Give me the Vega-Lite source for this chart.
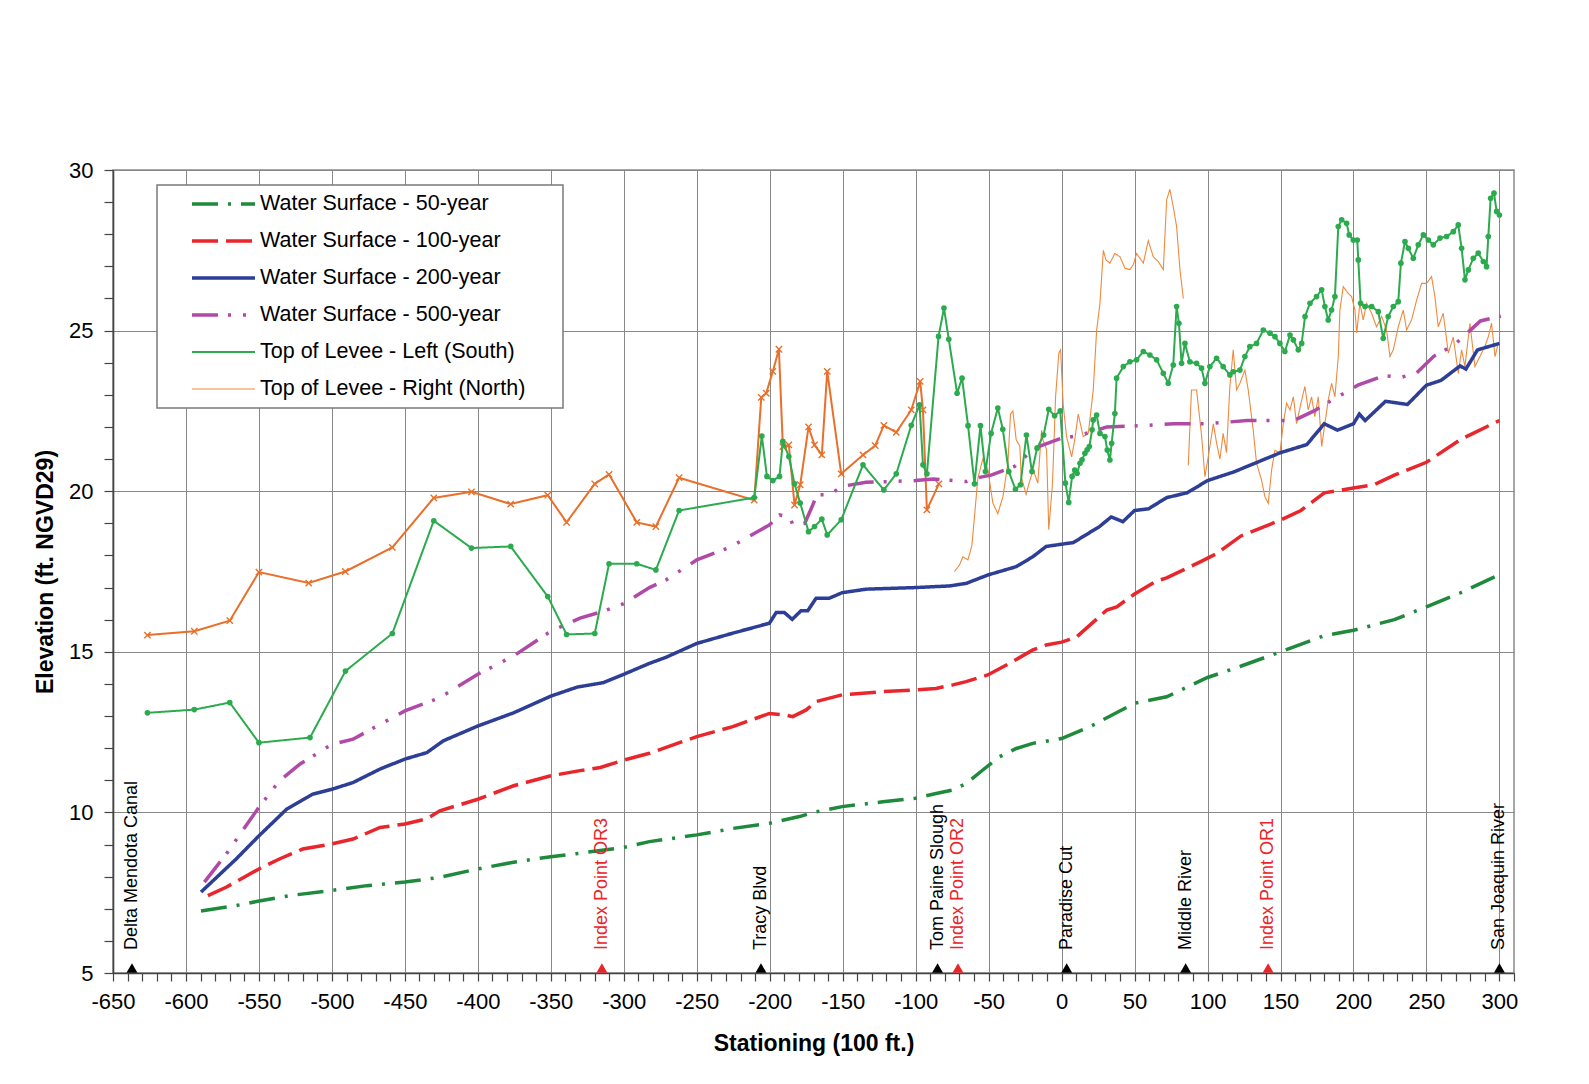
{
  "$schema": "https://vega.github.io/schema/vega-lite/v6.json",
  "width": 1401,
  "height": 803,
  "autosize": {"type": "none"},
  "padding": {"left": 113, "top": 170, "right": 75, "bottom": 111},
  "background": "white",
  "config": {
    "font": "Liberation Sans",
    "view": {"stroke": "#8a8a8a", "strokeWidth": 1.5}
  },
  "datasets": {
    "lines": [
      {"series":"Water Surface - 50-year","station":-589.7,"elev":6.93},
      {"series":"Water Surface - 50-year","station":-565.6,"elev":7.1},
      {"series":"Water Surface - 50-year","station":-550,"elev":7.24},
      {"series":"Water Surface - 50-year","station":-529,"elev":7.41},
      {"series":"Water Surface - 50-year","station":-500,"elev":7.57},
      {"series":"Water Surface - 50-year","station":-476,"elev":7.72},
      {"series":"Water Surface - 50-year","station":-450,"elev":7.83},
      {"series":"Water Surface - 50-year","station":-426,"elev":7.98},
      {"series":"Water Surface - 50-year","station":-400,"elev":8.24},
      {"series":"Water Surface - 50-year","station":-375.5,"elev":8.45},
      {"series":"Water Surface - 50-year","station":-350,"elev":8.62},
      {"series":"Water Surface - 50-year","station":-330,"elev":8.73},
      {"series":"Water Surface - 50-year","station":-300,"elev":8.91},
      {"series":"Water Surface - 50-year","station":-282.4,"elev":9.09},
      {"series":"Water Surface - 50-year","station":-250,"elev":9.3},
      {"series":"Water Surface - 50-year","station":-225.3,"elev":9.5},
      {"series":"Water Surface - 50-year","station":-200.2,"elev":9.66},
      {"series":"Water Surface - 50-year","station":-179.6,"elev":9.87},
      {"series":"Water Surface - 50-year","station":-168.2,"elev":10.02},
      {"series":"Water Surface - 50-year","station":-150.4,"elev":10.18},
      {"series":"Water Surface - 50-year","station":-122.5,"elev":10.33},
      {"series":"Water Surface - 50-year","station":-100.1,"elev":10.44},
      {"series":"Water Surface - 50-year","station":-86,"elev":10.59},
      {"series":"Water Surface - 50-year","station":-74.5,"elev":10.7},
      {"series":"Water Surface - 50-year","station":-65.4,"elev":10.9},
      {"series":"Water Surface - 50-year","station":-54,"elev":11.32},
      {"series":"Water Surface - 50-year","station":-42.6,"elev":11.73},
      {"series":"Water Surface - 50-year","station":-31.1,"elev":11.99},
      {"series":"Water Surface - 50-year","station":-19.7,"elev":12.15},
      {"series":"Water Surface - 50-year","station":0,"elev":12.3},
      {"series":"Water Surface - 50-year","station":19.5,"elev":12.67},
      {"series":"Water Surface - 50-year","station":50,"elev":13.4},
      {"series":"Water Surface - 50-year","station":72,"elev":13.6},
      {"series":"Water Surface - 50-year","station":100,"elev":14.2},
      {"series":"Water Surface - 50-year","station":122.7,"elev":14.55},
      {"series":"Water Surface - 50-year","station":150,"elev":15.0},
      {"series":"Water Surface - 50-year","station":180,"elev":15.5},
      {"series":"Water Surface - 50-year","station":200,"elev":15.67},
      {"series":"Water Surface - 50-year","station":228,"elev":16.0},
      {"series":"Water Surface - 50-year","station":250,"elev":16.4},
      {"series":"Water Surface - 50-year","station":273,"elev":16.83},
      {"series":"Water Surface - 50-year","station":300,"elev":17.4},

      {"series":"Water Surface - 100-year","station":-585,"elev":7.41},
      {"series":"Water Surface - 100-year","station":-572.5,"elev":7.67},
      {"series":"Water Surface - 100-year","station":-550,"elev":8.24},
      {"series":"Water Surface - 100-year","station":-536,"elev":8.55},
      {"series":"Water Surface - 100-year","station":-520,"elev":8.86},
      {"series":"Water Surface - 100-year","station":-500,"elev":9.02},
      {"series":"Water Surface - 100-year","station":-485.5,"elev":9.17},
      {"series":"Water Surface - 100-year","station":-467,"elev":9.53},
      {"series":"Water Surface - 100-year","station":-450,"elev":9.64},
      {"series":"Water Surface - 100-year","station":-435,"elev":9.8},
      {"series":"Water Surface - 100-year","station":-426,"elev":10.05},
      {"series":"Water Surface - 100-year","station":-400,"elev":10.41},
      {"series":"Water Surface - 100-year","station":-375.5,"elev":10.83},
      {"series":"Water Surface - 100-year","station":-350,"elev":11.14},
      {"series":"Water Surface - 100-year","station":-330,"elev":11.3},
      {"series":"Water Surface - 100-year","station":-316,"elev":11.4},
      {"series":"Water Surface - 100-year","station":-300,"elev":11.63},
      {"series":"Water Surface - 100-year","station":-282.4,"elev":11.84},
      {"series":"Water Surface - 100-year","station":-250,"elev":12.36},
      {"series":"Water Surface - 100-year","station":-225.3,"elev":12.67},
      {"series":"Water Surface - 100-year","station":-200.2,"elev":13.08},
      {"series":"Water Surface - 100-year","station":-188.8,"elev":13.03},
      {"series":"Water Surface - 100-year","station":-184.2,"elev":12.98},
      {"series":"Water Surface - 100-year","station":-175,"elev":13.19},
      {"series":"Water Surface - 100-year","station":-168.2,"elev":13.45},
      {"series":"Water Surface - 100-year","station":-150.4,"elev":13.66},
      {"series":"Water Surface - 100-year","station":-122.5,"elev":13.76},
      {"series":"Water Surface - 100-year","station":-100.1,"elev":13.81},
      {"series":"Water Surface - 100-year","station":-86,"elev":13.86},
      {"series":"Water Surface - 100-year","station":-74.5,"elev":13.97},
      {"series":"Water Surface - 100-year","station":-65.4,"elev":14.07},
      {"series":"Water Surface - 100-year","station":-50.6,"elev":14.28},
      {"series":"Water Surface - 100-year","station":-35.7,"elev":14.64},
      {"series":"Water Surface - 100-year","station":-19.7,"elev":15.06},
      {"series":"Water Surface - 100-year","station":-10.6,"elev":15.21},
      {"series":"Water Surface - 100-year","station":0,"elev":15.3},
      {"series":"Water Surface - 100-year","station":10,"elev":15.45},
      {"series":"Water Surface - 100-year","station":31,"elev":16.3},
      {"series":"Water Surface - 100-year","station":37.8,"elev":16.4},
      {"series":"Water Surface - 100-year","station":50,"elev":16.8},
      {"series":"Water Surface - 100-year","station":65,"elev":17.2},
      {"series":"Water Surface - 100-year","station":72,"elev":17.3},
      {"series":"Water Surface - 100-year","station":83.5,"elev":17.55},
      {"series":"Water Surface - 100-year","station":95,"elev":17.8},
      {"series":"Water Surface - 100-year","station":106,"elev":18.05},
      {"series":"Water Surface - 100-year","station":122.7,"elev":18.6},
      {"series":"Water Surface - 100-year","station":150,"elev":19.1},
      {"series":"Water Surface - 100-year","station":164,"elev":19.4},
      {"series":"Water Surface - 100-year","station":180,"elev":19.95},
      {"series":"Water Surface - 100-year","station":200,"elev":20.1},
      {"series":"Water Surface - 100-year","station":214,"elev":20.2},
      {"series":"Water Surface - 100-year","station":228,"elev":20.5},
      {"series":"Water Surface - 100-year","station":250,"elev":20.9},
      {"series":"Water Surface - 100-year","station":273,"elev":21.6},
      {"series":"Water Surface - 100-year","station":282,"elev":21.8},
      {"series":"Water Surface - 100-year","station":300,"elev":22.2},

      {"series":"Water Surface - 200-year","station":-589.7,"elev":7.52},
      {"series":"Water Surface - 200-year","station":-565.6,"elev":8.55},
      {"series":"Water Surface - 200-year","station":-550,"elev":9.27},
      {"series":"Water Surface - 200-year","station":-531,"elev":10.1},
      {"series":"Water Surface - 200-year","station":-513,"elev":10.57},
      {"series":"Water Surface - 200-year","station":-500,"elev":10.72},
      {"series":"Water Surface - 200-year","station":-485.5,"elev":10.93},
      {"series":"Water Surface - 200-year","station":-467,"elev":11.35},
      {"series":"Water Surface - 200-year","station":-450,"elev":11.66},
      {"series":"Water Surface - 200-year","station":-435,"elev":11.86},
      {"series":"Water Surface - 200-year","station":-423.6,"elev":12.23},
      {"series":"Water Surface - 200-year","station":-400,"elev":12.69},
      {"series":"Water Surface - 200-year","station":-375.5,"elev":13.1},
      {"series":"Water Surface - 200-year","station":-350,"elev":13.62},
      {"series":"Water Surface - 200-year","station":-332,"elev":13.9},
      {"series":"Water Surface - 200-year","station":-314,"elev":14.04},
      {"series":"Water Surface - 200-year","station":-300,"elev":14.3},
      {"series":"Water Surface - 200-year","station":-282.4,"elev":14.64},
      {"series":"Water Surface - 200-year","station":-271,"elev":14.83},
      {"series":"Water Surface - 200-year","station":-250,"elev":15.26},
      {"series":"Water Surface - 200-year","station":-225.3,"elev":15.58},
      {"series":"Water Surface - 200-year","station":-200.2,"elev":15.89},
      {"series":"Water Surface - 200-year","station":-195.6,"elev":16.22},
      {"series":"Water Surface - 200-year","station":-189.9,"elev":16.22},
      {"series":"Water Surface - 200-year","station":-184.6,"elev":16.01},
      {"series":"Water Surface - 200-year","station":-178.5,"elev":16.28},
      {"series":"Water Surface - 200-year","station":-173.9,"elev":16.28},
      {"series":"Water Surface - 200-year","station":-168.2,"elev":16.67},
      {"series":"Water Surface - 200-year","station":-159.1,"elev":16.67},
      {"series":"Water Surface - 200-year","station":-150.4,"elev":16.84},
      {"series":"Water Surface - 200-year","station":-133.9,"elev":16.95},
      {"series":"Water Surface - 200-year","station":-100.1,"elev":17.0},
      {"series":"Water Surface - 200-year","station":-76.8,"elev":17.05},
      {"series":"Water Surface - 200-year","station":-65.4,"elev":17.13},
      {"series":"Water Surface - 200-year","station":-50.6,"elev":17.39},
      {"series":"Water Surface - 200-year","station":-31.1,"elev":17.65},
      {"series":"Water Surface - 200-year","station":-19.7,"elev":17.96},
      {"series":"Water Surface - 200-year","station":-10.6,"elev":18.28},
      {"series":"Water Surface - 200-year","station":0,"elev":18.35},
      {"series":"Water Surface - 200-year","station":8,"elev":18.4},
      {"series":"Water Surface - 200-year","station":26,"elev":18.9},
      {"series":"Water Surface - 200-year","station":34,"elev":19.2},
      {"series":"Water Surface - 200-year","station":42,"elev":19.05},
      {"series":"Water Surface - 200-year","station":50,"elev":19.4},
      {"series":"Water Surface - 200-year","station":59.5,"elev":19.45},
      {"series":"Water Surface - 200-year","station":72,"elev":19.8},
      {"series":"Water Surface - 200-year","station":86,"elev":19.95},
      {"series":"Water Surface - 200-year","station":100,"elev":20.33},
      {"series":"Water Surface - 200-year","station":118,"elev":20.6},
      {"series":"Water Surface - 200-year","station":134,"elev":20.9},
      {"series":"Water Surface - 200-year","station":150,"elev":21.2},
      {"series":"Water Surface - 200-year","station":168,"elev":21.45},
      {"series":"Water Surface - 200-year","station":180,"elev":22.1},
      {"series":"Water Surface - 200-year","station":189,"elev":21.9},
      {"series":"Water Surface - 200-year","station":200,"elev":22.1},
      {"series":"Water Surface - 200-year","station":204,"elev":22.4},
      {"series":"Water Surface - 200-year","station":208,"elev":22.2},
      {"series":"Water Surface - 200-year","station":222,"elev":22.8},
      {"series":"Water Surface - 200-year","station":237,"elev":22.7},
      {"series":"Water Surface - 200-year","station":250,"elev":23.3},
      {"series":"Water Surface - 200-year","station":260,"elev":23.45},
      {"series":"Water Surface - 200-year","station":273,"elev":23.9},
      {"series":"Water Surface - 200-year","station":277,"elev":23.8},
      {"series":"Water Surface - 200-year","station":285,"elev":24.4},
      {"series":"Water Surface - 200-year","station":300,"elev":24.6},

      {"series":"Water Surface - 500-year","station":-587.4,"elev":7.83},
      {"series":"Water Surface - 500-year","station":-572.5,"elev":8.7},
      {"series":"Water Surface - 500-year","station":-550,"elev":10.16},
      {"series":"Water Surface - 500-year","station":-536,"elev":10.98},
      {"series":"Water Surface - 500-year","station":-522,"elev":11.5},
      {"series":"Water Surface - 500-year","station":-500,"elev":12.12},
      {"series":"Water Surface - 500-year","station":-485.5,"elev":12.28},
      {"series":"Water Surface - 500-year","station":-467,"elev":12.74},
      {"series":"Water Surface - 500-year","station":-450,"elev":13.16},
      {"series":"Water Surface - 500-year","station":-426,"elev":13.57},
      {"series":"Water Surface - 500-year","station":-417,"elev":13.83},
      {"series":"Water Surface - 500-year","station":-400,"elev":14.3},
      {"series":"Water Surface - 500-year","station":-375.5,"elev":14.87},
      {"series":"Water Surface - 500-year","station":-350,"elev":15.64},
      {"series":"Water Surface - 500-year","station":-330,"elev":16.05},
      {"series":"Water Surface - 500-year","station":-314,"elev":16.26},
      {"series":"Water Surface - 500-year","station":-300,"elev":16.5},
      {"series":"Water Surface - 500-year","station":-282.4,"elev":17.0},
      {"series":"Water Surface - 500-year","station":-271,"elev":17.24},
      {"series":"Water Surface - 500-year","station":-250,"elev":17.86},
      {"series":"Water Surface - 500-year","station":-227.5,"elev":18.25},
      {"series":"Water Surface - 500-year","station":-200.2,"elev":18.95},
      {"series":"Water Surface - 500-year","station":-193.3,"elev":19.26},
      {"series":"Water Surface - 500-year","station":-186.5,"elev":19.21},
      {"series":"Water Surface - 500-year","station":-184.1,"elev":18.95},
      {"series":"Water Surface - 500-year","station":-176,"elev":19.0},
      {"series":"Water Surface - 500-year","station":-170.4,"elev":19.58},
      {"series":"Water Surface - 500-year","station":-167.7,"elev":19.89},
      {"series":"Water Surface - 500-year","station":-159,"elev":19.89},
      {"series":"Water Surface - 500-year","station":-150.4,"elev":20.15},
      {"series":"Water Surface - 500-year","station":-134,"elev":20.28},
      {"series":"Water Surface - 500-year","station":-118,"elev":20.3},
      {"series":"Water Surface - 500-year","station":-100,"elev":20.33},
      {"series":"Water Surface - 500-year","station":-88,"elev":20.38},
      {"series":"Water Surface - 500-year","station":-74.6,"elev":20.33},
      {"series":"Water Surface - 500-year","station":-65,"elev":20.3},
      {"series":"Water Surface - 500-year","station":-56.2,"elev":20.43},
      {"series":"Water Surface - 500-year","station":-48.3,"elev":20.5},
      {"series":"Water Surface - 500-year","station":-32.3,"elev":20.77},
      {"series":"Water Surface - 500-year","station":-18.5,"elev":21.34},
      {"series":"Water Surface - 500-year","station":0,"elev":21.65},
      {"series":"Water Surface - 500-year","station":10,"elev":21.72},
      {"series":"Water Surface - 500-year","station":19.5,"elev":21.83},
      {"series":"Water Surface - 500-year","station":31,"elev":22.0},
      {"series":"Water Surface - 500-year","station":50,"elev":22.03},
      {"series":"Water Surface - 500-year","station":77,"elev":22.1},
      {"series":"Water Surface - 500-year","station":100,"elev":22.1},
      {"series":"Water Surface - 500-year","station":127,"elev":22.2},
      {"series":"Water Surface - 500-year","station":143,"elev":22.2},
      {"series":"Water Surface - 500-year","station":159,"elev":22.2},
      {"series":"Water Surface - 500-year","station":173,"elev":22.5},
      {"series":"Water Surface - 500-year","station":184,"elev":22.8},
      {"series":"Water Surface - 500-year","station":203,"elev":23.3},
      {"series":"Water Surface - 500-year","station":221,"elev":23.6},
      {"series":"Water Surface - 500-year","station":233,"elev":23.55},
      {"series":"Water Surface - 500-year","station":243,"elev":23.67},
      {"series":"Water Surface - 500-year","station":255,"elev":24.2},
      {"series":"Water Surface - 500-year","station":269,"elev":24.55},
      {"series":"Water Surface - 500-year","station":287,"elev":25.3},
      {"series":"Water Surface - 500-year","station":301,"elev":25.45},

      {"series":"Top of Levee - Right (North)","seg":1,"station":-73.4,"elev":17.5},
      {"series":"Top of Levee - Right (North)","seg":1,"station":-70,"elev":17.7},
      {"series":"Top of Levee - Right (North)","seg":1,"station":-67.6,"elev":17.96},
      {"series":"Top of Levee - Right (North)","seg":1,"station":-64.2,"elev":17.86},
      {"series":"Top of Levee - Right (North)","seg":1,"station":-61.5,"elev":18.3},
      {"series":"Top of Levee - Right (North)","seg":1,"station":-59.7,"elev":19.2},
      {"series":"Top of Levee - Right (North)","seg":1,"station":-57.4,"elev":20.4},
      {"series":"Top of Levee - Right (North)","seg":1,"station":-54,"elev":21.0},
      {"series":"Top of Levee - Right (North)","seg":1,"station":-50.6,"elev":20.7},
      {"series":"Top of Levee - Right (North)","seg":1,"station":-47.1,"elev":19.63},
      {"series":"Top of Levee - Right (North)","seg":1,"station":-43.7,"elev":19.3},
      {"series":"Top of Levee - Right (North)","seg":1,"station":-40.2,"elev":19.83},
      {"series":"Top of Levee - Right (North)","seg":1,"station":-36.8,"elev":20.87},
      {"series":"Top of Levee - Right (North)","seg":1,"station":-35,"elev":22.4},
      {"series":"Top of Levee - Right (North)","seg":1,"station":-33.4,"elev":22.5},
      {"series":"Top of Levee - Right (North)","seg":1,"station":-31.1,"elev":21.6},
      {"series":"Top of Levee - Right (North)","seg":1,"station":-28.6,"elev":21.4},
      {"series":"Top of Levee - Right (North)","seg":1,"station":-27.7,"elev":20.46},
      {"series":"Top of Levee - Right (North)","seg":1,"station":-24.3,"elev":19.9},
      {"series":"Top of Levee - Right (North)","seg":1,"station":-22,"elev":20.3},
      {"series":"Top of Levee - Right (North)","seg":1,"station":-19.4,"elev":20.66},
      {"series":"Top of Levee - Right (North)","seg":1,"station":-16.3,"elev":20.25},
      {"series":"Top of Levee - Right (North)","seg":1,"station":-13.7,"elev":21.9},
      {"series":"Top of Levee - Right (North)","seg":1,"station":-12.8,"elev":21.6},
      {"series":"Top of Levee - Right (North)","seg":1,"station":-10.3,"elev":21.3},
      {"series":"Top of Levee - Right (North)","seg":1,"station":-8.8,"elev":18.8},
      {"series":"Top of Levee - Right (North)","seg":1,"station":-6.4,"elev":20.15},
      {"series":"Top of Levee - Right (North)","seg":1,"station":-5.7,"elev":20.9},
      {"series":"Top of Levee - Right (North)","seg":1,"station":-4.1,"elev":22.95},
      {"series":"Top of Levee - Right (North)","seg":1,"station":-1.9,"elev":24.3},
      {"series":"Top of Levee - Right (North)","seg":1,"station":-0.7,"elev":24.4},
      {"series":"Top of Levee - Right (North)","seg":1,"station":1.1,"elev":22.7},
      {"series":"Top of Levee - Right (North)","seg":1,"station":3.4,"elev":21.7},
      {"series":"Top of Levee - Right (North)","seg":1,"station":6.9,"elev":21.07},
      {"series":"Top of Levee - Right (North)","seg":1,"station":9,"elev":21.6},
      {"series":"Top of Levee - Right (North)","seg":1,"station":11.4,"elev":22.4},
      {"series":"Top of Levee - Right (North)","seg":1,"station":14.8,"elev":21.7},
      {"series":"Top of Levee - Right (North)","seg":1,"station":18.3,"elev":21.8},
      {"series":"Top of Levee - Right (North)","seg":1,"station":21.7,"elev":23.15},
      {"series":"Top of Levee - Right (North)","seg":1,"station":24,"elev":25.0},
      {"series":"Top of Levee - Right (North)","seg":1,"station":26.3,"elev":25.85},
      {"series":"Top of Levee - Right (North)","seg":1,"station":28.6,"elev":27.5},
      {"series":"Top of Levee - Right (North)","seg":1,"station":30.4,"elev":27.2},
      {"series":"Top of Levee - Right (North)","seg":1,"station":33.1,"elev":27.1},
      {"series":"Top of Levee - Right (North)","seg":1,"station":36.5,"elev":27.4},
      {"series":"Top of Levee - Right (North)","seg":1,"station":40,"elev":27.3},
      {"series":"Top of Levee - Right (North)","seg":1,"station":43.4,"elev":26.94},
      {"series":"Top of Levee - Right (North)","seg":1,"station":46.8,"elev":26.9},
      {"series":"Top of Levee - Right (North)","seg":1,"station":49.1,"elev":27.05},
      {"series":"Top of Levee - Right (North)","seg":1,"station":51.4,"elev":27.4},
      {"series":"Top of Levee - Right (North)","seg":1,"station":56,"elev":27.1},
      {"series":"Top of Levee - Right (North)","seg":1,"station":59.4,"elev":27.8},
      {"series":"Top of Levee - Right (North)","seg":1,"station":62.8,"elev":27.3},
      {"series":"Top of Levee - Right (North)","seg":1,"station":66.2,"elev":27.15},
      {"series":"Top of Levee - Right (North)","seg":1,"station":69.7,"elev":26.9},
      {"series":"Top of Levee - Right (North)","seg":1,"station":72,"elev":29.07},
      {"series":"Top of Levee - Right (North)","seg":1,"station":74.2,"elev":29.4},
      {"series":"Top of Levee - Right (North)","seg":1,"station":76.5,"elev":28.86},
      {"series":"Top of Levee - Right (North)","seg":1,"station":78.8,"elev":28.24},
      {"series":"Top of Levee - Right (North)","seg":1,"station":81.1,"elev":26.9},
      {"series":"Top of Levee - Right (North)","seg":1,"station":83.4,"elev":26.0},
      {"series":"Top of Levee - Right (North)","seg":2,"station":86.8,"elev":20.8},
      {"series":"Top of Levee - Right (North)","seg":2,"station":89,"elev":23.15},
      {"series":"Top of Levee - Right (North)","seg":2,"station":92.5,"elev":23.15},
      {"series":"Top of Levee - Right (North)","seg":2,"station":96,"elev":21.7},
      {"series":"Top of Levee - Right (North)","seg":2,"station":98.2,"elev":20.45},
      {"series":"Top of Levee - Right (North)","seg":2,"station":100.5,"elev":21.07},
      {"series":"Top of Levee - Right (North)","seg":2,"station":104,"elev":22.1},
      {"series":"Top of Levee - Right (North)","seg":2,"station":106.2,"elev":21.5},
      {"series":"Top of Levee - Right (North)","seg":2,"station":108.5,"elev":21.0},
      {"series":"Top of Levee - Right (North)","seg":2,"station":110.7,"elev":21.8},
      {"series":"Top of Levee - Right (North)","seg":2,"station":113,"elev":21.2},
      {"series":"Top of Levee - Right (North)","seg":2,"station":115.3,"elev":23.26},
      {"series":"Top of Levee - Right (North)","seg":2,"station":117.6,"elev":24.4},
      {"series":"Top of Levee - Right (North)","seg":2,"station":119.9,"elev":23.15},
      {"series":"Top of Levee - Right (North)","seg":2,"station":122.2,"elev":23.36},
      {"series":"Top of Levee - Right (North)","seg":2,"station":125.6,"elev":23.77},
      {"series":"Top of Levee - Right (North)","seg":2,"station":127.9,"elev":23.15},
      {"series":"Top of Levee - Right (North)","seg":2,"station":131.3,"elev":21.9},
      {"series":"Top of Levee - Right (North)","seg":2,"station":133.6,"elev":20.87},
      {"series":"Top of Levee - Right (North)","seg":2,"station":137,"elev":20.35},
      {"series":"Top of Levee - Right (North)","seg":2,"station":139.3,"elev":19.83},
      {"series":"Top of Levee - Right (North)","seg":2,"station":141.6,"elev":19.62},
      {"series":"Top of Levee - Right (North)","seg":2,"station":143.9,"elev":20.66},
      {"series":"Top of Levee - Right (North)","seg":2,"station":146.2,"elev":21.28},
      {"series":"Top of Levee - Right (North)","seg":2,"station":149.6,"elev":21.18},
      {"series":"Top of Levee - Right (North)","seg":2,"station":151.9,"elev":22.1},
      {"series":"Top of Levee - Right (North)","seg":2,"station":154.2,"elev":22.74},
      {"series":"Top of Levee - Right (North)","seg":2,"station":156.5,"elev":22.53},
      {"series":"Top of Levee - Right (North)","seg":2,"station":158.8,"elev":22.94},
      {"series":"Top of Levee - Right (North)","seg":2,"station":161,"elev":22.1},
      {"series":"Top of Levee - Right (North)","seg":2,"station":164.5,"elev":22.84},
      {"series":"Top of Levee - Right (North)","seg":2,"station":166.7,"elev":23.26},
      {"series":"Top of Levee - Right (North)","seg":2,"station":169,"elev":22.53},
      {"series":"Top of Levee - Right (North)","seg":2,"station":171.3,"elev":22.94},
      {"series":"Top of Levee - Right (North)","seg":2,"station":173.5,"elev":22.32},
      {"series":"Top of Levee - Right (North)","seg":2,"station":175.9,"elev":22.94},
      {"series":"Top of Levee - Right (North)","seg":2,"station":178.2,"elev":21.39},
      {"series":"Top of Levee - Right (North)","seg":2,"station":180.4,"elev":22.1},
      {"series":"Top of Levee - Right (North)","seg":2,"station":182.7,"elev":22.84},
      {"series":"Top of Levee - Right (North)","seg":2,"station":185,"elev":23.36},
      {"series":"Top of Levee - Right (North)","seg":2,"station":187.3,"elev":22.94},
      {"series":"Top of Levee - Right (North)","seg":2,"station":189.6,"elev":24.19},
      {"series":"Top of Levee - Right (North)","seg":2,"station":190.7,"elev":25.64},
      {"series":"Top of Levee - Right (North)","seg":2,"station":193,"elev":26.37},
      {"series":"Top of Levee - Right (North)","seg":2,"station":196.4,"elev":26.16},
      {"series":"Top of Levee - Right (North)","seg":2,"station":198.7,"elev":26.06},
      {"series":"Top of Levee - Right (North)","seg":2,"station":201,"elev":25.64},
      {"series":"Top of Levee - Right (North)","seg":2,"station":202.2,"elev":24.92},
      {"series":"Top of Levee - Right (North)","seg":2,"station":204.4,"elev":25.85},
      {"series":"Top of Levee - Right (North)","seg":2,"station":206.7,"elev":25.33},
      {"series":"Top of Levee - Right (North)","seg":2,"station":209,"elev":25.85},
      {"series":"Top of Levee - Right (North)","seg":2,"station":212.4,"elev":25.54},
      {"series":"Top of Levee - Right (North)","seg":2,"station":215.8,"elev":25.12},
      {"series":"Top of Levee - Right (North)","seg":2,"station":219.3,"elev":25.44},
      {"series":"Top of Levee - Right (North)","seg":2,"station":222.7,"elev":25.02},
      {"series":"Top of Levee - Right (North)","seg":2,"station":225,"elev":24.19},
      {"series":"Top of Levee - Right (North)","seg":2,"station":227.3,"elev":24.4},
      {"series":"Top of Levee - Right (North)","seg":2,"station":230.7,"elev":25.12},
      {"series":"Top of Levee - Right (North)","seg":2,"station":234.1,"elev":25.64},
      {"series":"Top of Levee - Right (North)","seg":2,"station":236.4,"elev":25.02},
      {"series":"Top of Levee - Right (North)","seg":2,"station":239.8,"elev":25.33},
      {"series":"Top of Levee - Right (North)","seg":2,"station":243.3,"elev":25.95},
      {"series":"Top of Levee - Right (North)","seg":2,"station":246.7,"elev":26.47},
      {"series":"Top of Levee - Right (North)","seg":2,"station":250.1,"elev":26.47},
      {"series":"Top of Levee - Right (North)","seg":2,"station":253.5,"elev":26.68},
      {"series":"Top of Levee - Right (North)","seg":2,"station":255.8,"elev":26.06},
      {"series":"Top of Levee - Right (North)","seg":2,"station":258.1,"elev":25.12},
      {"series":"Top of Levee - Right (North)","seg":2,"station":261.5,"elev":25.54},
      {"series":"Top of Levee - Right (North)","seg":2,"station":265,"elev":24.3},
      {"series":"Top of Levee - Right (North)","seg":2,"station":268.4,"elev":24.8},
      {"series":"Top of Levee - Right (North)","seg":2,"station":271.8,"elev":23.67},
      {"series":"Top of Levee - Right (North)","seg":2,"station":274.1,"elev":24.4},
      {"series":"Top of Levee - Right (North)","seg":2,"station":276.4,"elev":23.88},
      {"series":"Top of Levee - Right (North)","seg":2,"station":279.8,"elev":25.23},
      {"series":"Top of Levee - Right (North)","seg":2,"station":283.2,"elev":23.88},
      {"series":"Top of Levee - Right (North)","seg":2,"station":286.6,"elev":24.19},
      {"series":"Top of Levee - Right (North)","seg":2,"station":290,"elev":24.5},
      {"series":"Top of Levee - Right (North)","seg":2,"station":292.4,"elev":24.81},
      {"series":"Top of Levee - Right (North)","seg":2,"station":294.6,"elev":25.23},
      {"series":"Top of Levee - Right (North)","seg":2,"station":297,"elev":24.19},
      {"series":"Top of Levee - Right (North)","seg":2,"station":299.2,"elev":24.6},

      {"series":"Top of Levee - Left (South)","station":-626.4,"elev":13.1},
      {"series":"Top of Levee - Left (South)","station":-594.3,"elev":13.2},
      {"series":"Top of Levee - Left (South)","station":-570,"elev":13.42},
      {"series":"Top of Levee - Left (South)","station":-550,"elev":12.17},
      {"series":"Top of Levee - Left (South)","station":-515,"elev":12.33},
      {"series":"Top of Levee - Left (South)","station":-490.7,"elev":14.4},
      {"series":"Top of Levee - Left (South)","station":-458.6,"elev":15.57},
      {"series":"Top of Levee - Left (South)","station":-430.2,"elev":19.08},
      {"series":"Top of Levee - Left (South)","station":-404.4,"elev":18.23},
      {"series":"Top of Levee - Left (South)","station":-377.5,"elev":18.28},
      {"series":"Top of Levee - Left (South)","station":-352.1,"elev":16.72},
      {"series":"Top of Levee - Left (South)","station":-339.2,"elev":15.54},
      {"series":"Top of Levee - Left (South)","station":-319.9,"elev":15.57},
      {"series":"Top of Levee - Left (South)","station":-310.1,"elev":17.74},
      {"series":"Top of Levee - Left (South)","station":-291.1,"elev":17.74},
      {"series":"Top of Levee - Left (South)","station":-278,"elev":17.55},
      {"series":"Top of Levee - Left (South)","station":-262.1,"elev":19.4},
      {"series":"Top of Levee - Left (South)","station":-210.6,"elev":19.8},
      {"series":"Top of Levee - Left (South)","station":-205.4,"elev":21.72},
      {"series":"Top of Levee - Left (South)","station":-201.9,"elev":20.46},
      {"series":"Top of Levee - Left (South)","station":-197.8,"elev":20.33},
      {"series":"Top of Levee - Left (South)","station":-193.3,"elev":20.46},
      {"series":"Top of Levee - Left (South)","station":-191,"elev":21.55},
      {"series":"Top of Levee - Left (South)","station":-186.9,"elev":21.08},
      {"series":"Top of Levee - Left (South)","station":-183,"elev":20.23},
      {"series":"Top of Levee - Left (South)","station":-179.1,"elev":19.63},
      {"series":"Top of Levee - Left (South)","station":-173.4,"elev":18.74},
      {"series":"Top of Levee - Left (South)","station":-169.3,"elev":18.9},
      {"series":"Top of Levee - Left (South)","station":-164.3,"elev":19.13},
      {"series":"Top of Levee - Left (South)","station":-160.6,"elev":18.64},
      {"series":"Top of Levee - Left (South)","station":-151,"elev":19.11},
      {"series":"Top of Levee - Left (South)","station":-136.1,"elev":20.82},
      {"series":"Top of Levee - Left (South)","station":-121.8,"elev":20.04},
      {"series":"Top of Levee - Left (South)","station":-113.3,"elev":20.54},
      {"series":"Top of Levee - Left (South)","station":-103,"elev":22.05},
      {"series":"Top of Levee - Left (South)","station":-97.3,"elev":22.69},
      {"series":"Top of Levee - Left (South)","station":-95,"elev":20.82},
      {"series":"Top of Levee - Left (South)","station":-92.3,"elev":20.54},
      {"series":"Top of Levee - Left (South)","station":-84.3,"elev":24.82},
      {"series":"Top of Levee - Left (South)","station":-80.6,"elev":25.7},
      {"series":"Top of Levee - Left (South)","station":-77.3,"elev":24.73},
      {"series":"Top of Levee - Left (South)","station":-71.6,"elev":23.05},
      {"series":"Top of Levee - Left (South)","station":-68.2,"elev":23.52},
      {"series":"Top of Levee - Left (South)","station":-64.1,"elev":22.04},
      {"series":"Top of Levee - Left (South)","station":-59.7,"elev":20.23},
      {"series":"Top of Levee - Left (South)","station":-55.6,"elev":22.04},
      {"series":"Top of Levee - Left (South)","station":-52.2,"elev":20.61},
      {"series":"Top of Levee - Left (South)","station":-48.3,"elev":21.8},
      {"series":"Top of Levee - Left (South)","station":-43.7,"elev":22.59},
      {"series":"Top of Levee - Left (South)","station":-40.3,"elev":21.93},
      {"series":"Top of Levee - Left (South)","station":-36.2,"elev":20.61},
      {"series":"Top of Levee - Left (South)","station":-31.6,"elev":20.06},
      {"series":"Top of Levee - Left (South)","station":-28.2,"elev":20.2},
      {"series":"Top of Levee - Left (South)","station":-24.1,"elev":21.75},
      {"series":"Top of Levee - Left (South)","station":-20.3,"elev":20.61},
      {"series":"Top of Levee - Left (South)","station":-16.8,"elev":21.34},
      {"series":"Top of Levee - Left (South)","station":-12.3,"elev":21.75},
      {"series":"Top of Levee - Left (South)","station":-8.8,"elev":22.55},
      {"series":"Top of Levee - Left (South)","station":-4.8,"elev":22.35},
      {"series":"Top of Levee - Left (South)","station":-0.9,"elev":22.5},
      {"series":"Top of Levee - Left (South)","station":2.6,"elev":20.25},
      {"series":"Top of Levee - Left (South)","station":4.9,"elev":19.65},
      {"series":"Top of Levee - Left (South)","station":7.2,"elev":20.46},
      {"series":"Top of Levee - Left (South)","station":9,"elev":20.66},
      {"series":"Top of Levee - Left (South)","station":10.6,"elev":20.56},
      {"series":"Top of Levee - Left (South)","station":12.6,"elev":20.87},
      {"series":"Top of Levee - Left (South)","station":14,"elev":20.98},
      {"series":"Top of Levee - Left (South)","station":16,"elev":21.18},
      {"series":"Top of Levee - Left (South)","station":17.5,"elev":21.29},
      {"series":"Top of Levee - Left (South)","station":19,"elev":21.39},
      {"series":"Top of Levee - Left (South)","station":20.9,"elev":21.91},
      {"series":"Top of Levee - Left (South)","station":21.7,"elev":22.22},
      {"series":"Top of Levee - Left (South)","station":24,"elev":22.37},
      {"series":"Top of Levee - Left (South)","station":26.3,"elev":21.8},
      {"series":"Top of Levee - Left (South)","station":29.7,"elev":21.7},
      {"series":"Top of Levee - Left (South)","station":31.3,"elev":21.28},
      {"series":"Top of Levee - Left (South)","station":33.1,"elev":20.97},
      {"series":"Top of Levee - Left (South)","station":34.3,"elev":21.49},
      {"series":"Top of Levee - Left (South)","station":36.5,"elev":22.42},
      {"series":"Top of Levee - Left (South)","station":37.7,"elev":23.52},
      {"series":"Top of Levee - Left (South)","station":42.3,"elev":23.88},
      {"series":"Top of Levee - Left (South)","station":46.8,"elev":24.03},
      {"series":"Top of Levee - Left (South)","station":51.4,"elev":24.09},
      {"series":"Top of Levee - Left (South)","station":56,"elev":24.35},
      {"series":"Top of Levee - Left (South)","station":60.5,"elev":24.24},
      {"series":"Top of Levee - Left (South)","station":65.1,"elev":24.09},
      {"series":"Top of Levee - Left (South)","station":69.7,"elev":23.67},
      {"series":"Top of Levee - Left (South)","station":73.1,"elev":23.36},
      {"series":"Top of Levee - Left (South)","station":76.5,"elev":23.93},
      {"series":"Top of Levee - Left (South)","station":78.8,"elev":25.75},
      {"series":"Top of Levee - Left (South)","station":80.4,"elev":25.23},
      {"series":"Top of Levee - Left (South)","station":82.2,"elev":23.98},
      {"series":"Top of Levee - Left (South)","station":84.5,"elev":24.6},
      {"series":"Top of Levee - Left (South)","station":87.9,"elev":24.03},
      {"series":"Top of Levee - Left (South)","station":92.5,"elev":23.98},
      {"series":"Top of Levee - Left (South)","station":95.9,"elev":23.83},
      {"series":"Top of Levee - Left (South)","station":98.2,"elev":23.36},
      {"series":"Top of Levee - Left (South)","station":101.6,"elev":23.88},
      {"series":"Top of Levee - Left (South)","station":106.2,"elev":24.14},
      {"series":"Top of Levee - Left (South)","station":110.7,"elev":23.88},
      {"series":"Top of Levee - Left (South)","station":115.3,"elev":23.62},
      {"series":"Top of Levee - Left (South)","station":117.6,"elev":23.72},
      {"series":"Top of Levee - Left (South)","station":122.2,"elev":23.77},
      {"series":"Top of Levee - Left (South)","station":125.6,"elev":24.19},
      {"series":"Top of Levee - Left (South)","station":129,"elev":24.5},
      {"series":"Top of Levee - Left (South)","station":133.6,"elev":24.6},
      {"series":"Top of Levee - Left (South)","station":138.2,"elev":25.02},
      {"series":"Top of Levee - Left (South)","station":142.8,"elev":24.92},
      {"series":"Top of Levee - Left (South)","station":146.2,"elev":24.81},
      {"series":"Top of Levee - Left (South)","station":149.6,"elev":24.6},
      {"series":"Top of Levee - Left (South)","station":153,"elev":24.35},
      {"series":"Top of Levee - Left (South)","station":156.5,"elev":24.86},
      {"series":"Top of Levee - Left (South)","station":158.8,"elev":24.71},
      {"series":"Top of Levee - Left (South)","station":162.2,"elev":24.4},
      {"series":"Top of Levee - Left (South)","station":164.5,"elev":24.6},
      {"series":"Top of Levee - Left (South)","station":166.8,"elev":25.44},
      {"series":"Top of Levee - Left (South)","station":170.2,"elev":25.85},
      {"series":"Top of Levee - Left (South)","station":174.7,"elev":26.06},
      {"series":"Top of Levee - Left (South)","station":178.2,"elev":26.27},
      {"series":"Top of Levee - Left (South)","station":180.4,"elev":25.75},
      {"series":"Top of Levee - Left (South)","station":182.7,"elev":25.33},
      {"series":"Top of Levee - Left (South)","station":185,"elev":25.64},
      {"series":"Top of Levee - Left (South)","station":187.3,"elev":26.06},
      {"series":"Top of Levee - Left (South)","station":189.6,"elev":28.24},
      {"series":"Top of Levee - Left (South)","station":191.9,"elev":28.45},
      {"series":"Top of Levee - Left (South)","station":195.3,"elev":28.34},
      {"series":"Top of Levee - Left (South)","station":197.1,"elev":27.98},
      {"series":"Top of Levee - Left (South)","station":199.9,"elev":27.82},
      {"series":"Top of Levee - Left (South)","station":202.6,"elev":27.82},
      {"series":"Top of Levee - Left (South)","station":203.3,"elev":27.2},
      {"series":"Top of Levee - Left (South)","station":204.9,"elev":25.85},
      {"series":"Top of Levee - Left (South)","station":207.9,"elev":25.75},
      {"series":"Top of Levee - Left (South)","station":212.5,"elev":25.75},
      {"series":"Top of Levee - Left (South)","station":217,"elev":25.59},
      {"series":"Top of Levee - Left (South)","station":220.4,"elev":24.76},
      {"series":"Top of Levee - Left (South)","station":223.8,"elev":25.44},
      {"series":"Top of Levee - Left (South)","station":227.3,"elev":25.75},
      {"series":"Top of Levee - Left (South)","station":230.7,"elev":25.9},
      {"series":"Top of Levee - Left (South)","station":232.5,"elev":27.1},
      {"series":"Top of Levee - Left (South)","station":235.3,"elev":27.77},
      {"series":"Top of Levee - Left (South)","station":237.6,"elev":27.56},
      {"series":"Top of Levee - Left (South)","station":241,"elev":27.25},
      {"series":"Top of Levee - Left (South)","station":244.4,"elev":27.67},
      {"series":"Top of Levee - Left (South)","station":247.9,"elev":27.98},
      {"series":"Top of Levee - Left (South)","station":251.3,"elev":27.82},
      {"series":"Top of Levee - Left (South)","station":254.7,"elev":27.67},
      {"series":"Top of Levee - Left (South)","station":259.3,"elev":27.88},
      {"series":"Top of Levee - Left (South)","station":263.8,"elev":27.93},
      {"series":"Top of Levee - Left (South)","station":268.4,"elev":28.08},
      {"series":"Top of Levee - Left (South)","station":271.8,"elev":28.29},
      {"series":"Top of Levee - Left (South)","station":274.1,"elev":27.56},
      {"series":"Top of Levee - Left (South)","station":276.4,"elev":26.58},
      {"series":"Top of Levee - Left (South)","station":278.7,"elev":26.89},
      {"series":"Top of Levee - Left (South)","station":282.1,"elev":27.25},
      {"series":"Top of Levee - Left (South)","station":285.5,"elev":27.41},
      {"series":"Top of Levee - Left (South)","station":289,"elev":27.15},
      {"series":"Top of Levee - Left (South)","station":291.2,"elev":26.99},
      {"series":"Top of Levee - Left (South)","station":292.4,"elev":27.93},
      {"series":"Top of Levee - Left (South)","station":294,"elev":29.12},
      {"series":"Top of Levee - Left (South)","station":296.3,"elev":29.28},
      {"series":"Top of Levee - Left (South)","station":298.1,"elev":28.71},
      {"series":"Top of Levee - Left (South)","station":300,"elev":28.6}
    ],
    "rightSparse": [
      {"station":-626.4,"elev":15.52},{"station":-594.3,"elev":15.64},{"station":-570,"elev":15.97},
      {"station":-550,"elev":17.48},{"station":-515.9,"elev":17.14},{"station":-490.8,"elev":17.5},
      {"station":-458.6,"elev":18.25},{"station":-430.2,"elev":19.79},{"station":-404.4,"elev":19.98},
      {"station":-377.5,"elev":19.6},{"station":-352.1,"elev":19.875},{"station":-339.2,"elev":19.03},
      {"station":-319.9,"elev":20.23},{"station":-310.1,"elev":20.52},{"station":-291.1,"elev":19.03},
      {"station":-278,"elev":18.9},{"station":-262.1,"elev":20.42},{"station":-210.6,"elev":19.72},
      {"station":-205.8,"elev":22.92},{"station":-202.4,"elev":23.05},{"station":-197.9,"elev":23.73},
      {"station":-193.7,"elev":24.42},{"station":-191,"elev":21.39},{"station":-186.9,"elev":21.44},
      {"station":-183,"elev":19.57},{"station":-179.1,"elev":20.2},{"station":-173.4,"elev":22.0},
      {"station":-169.3,"elev":21.44},{"station":-164.3,"elev":21.13},{"station":-160.6,"elev":23.73},
      {"station":-151,"elev":20.54},{"station":-136.1,"elev":21.13},{"station":-127.7,"elev":21.42},
      {"station":-121.8,"elev":22.05},{"station":-113.3,"elev":21.83},{"station":-103,"elev":22.53},
      {"station":-96.9,"elev":23.42},{"station":-95,"elev":22.53},{"station":-92.3,"elev":19.42},
      {"station":-84.1,"elev":20.23}
    ],
    "places": [
      {"name":"Delta Mendota Canal","station":-637,"kind":"place"},
      {"name":"Index Point OR3","station":-315,"kind":"index"},
      {"name":"Tracy Blvd","station":-206,"kind":"place"},
      {"name":"Tom Paine Slough","station":-85,"kind":"place"},
      {"name":"Index Point OR2","station":-71,"kind":"index"},
      {"name":"Paradise Cut","station":3.5,"kind":"place"},
      {"name":"Middle River","station":85,"kind":"place"},
      {"name":"Index Point OR1","station":141.5,"kind":"index"},
      {"name":"San Joaquin River","station":300,"kind":"place"}
    ]
  },
  "encoding": {
    "x": {
      "field": "station", "type": "quantitative",
      "scale": {"domain": [-650, 310], "nice": false, "zero": false},
      "axis": {
        "title": "Stationing (100 ft.)",
        "values": [-650,-640,-630,-620,-610,-600,-590,-580,-570,-560,-550,-540,-530,-520,-510,-500,-490,-480,-470,-460,-450,-440,-430,-420,-410,-400,-390,-380,-370,-360,-350,-340,-330,-320,-310,-300,-290,-280,-270,-260,-250,-240,-230,-220,-210,-200,-190,-180,-170,-160,-150,-140,-130,-120,-110,-100,-90,-80,-70,-60,-50,-40,-30,-20,-10,0,10,20,30,40,50,60,70,80,90,100,110,120,130,140,150,160,170,180,190,200,210,220,230,240,250,260,270,280,290,300,310],
        "labelExpr": "datum.value % 50 === 0 ? '' + datum.value : ''",
        "labelOverlap": false,
        "labelFlush": false,
        "labelFontSize": 22,
        "labelColor": "#000000",
        "labelPadding": 10,
        "tickSize": 8,
        "tickColor": "#444444",
        "tickWidth": 1.2,
        "grid": true,
        "gridColor": "#888888",
        "gridWidth": 1,
        "gridOpacity": {"condition": {"test": "datum.value % 50 === 0", "value": 1}, "value": 0},
        "domainColor": "#444444",
        "domainWidth": 1.6,
        "titleFontSize": 23,
        "titleFontWeight": "bold",
        "titleColor": "#000000",
        "titlePadding": 20,
        "encode": {"ticks": {"update": {"y2": {"signal": "datum.value % 50 === 0 ? 8 : 5"}}}}
      }
    }
  },
  "layer": [
    {
      "encoding": {
        "y": {
          "field": "elev", "type": "quantitative",
          "scale": {"domain": [5, 30], "nice": false, "zero": false},
          "axis": {
            "title": "Elevation (ft. NGVD29)",
            "values": [5,6,7,8,9,10,11,12,13,14,15,16,17,18,19,20,21,22,23,24,25,26,27,28,29,30],
            "labelExpr": "datum.value % 5 === 0 ? '' + datum.value : ''",
            "labelOverlap": false,
            "labelFontSize": 22,
            "labelColor": "#000000",
            "labelPadding": 11,
            "tickSize": 9,
            "tickColor": "#444444",
            "tickWidth": 1.2,
            "grid": true,
            "gridColor": "#888888",
            "gridWidth": 1,
            "gridOpacity": {"condition": {"test": "datum.value % 5 === 0", "value": 1}, "value": 0},
            "domainColor": "#444444",
            "domainWidth": 1.6,
            "titleFontSize": 23,
            "titleFontWeight": "bold",
            "titleColor": "#000000",
            "titlePadding": 11,
            "encode": {"ticks": {"update": {"x2": {"signal": "datum.value % 5 === 0 ? -9 : -5"}}}}
          }
        }
      },
      "layer": [
        {
          "data": {"name": "rightSparse"},
          "mark": {"type": "line", "color": "#E8702A", "strokeWidth": 2}
        },
        {
          "data": {"name": "rightSparse"},
          "mark": {"type": "point", "shape": "M-1,-1L1,1M-1,1L1,-1", "filled": false, "color": "#E8702A", "strokeWidth": 1.4, "size": 40, "opacity": 1}
        },
        {
          "data": {"name": "lines"},
          "encoding": {
            "color": {
              "field": "series", "type": "nominal",
              "scale": {
                "domain": ["Water Surface - 50-year","Water Surface - 100-year","Water Surface - 200-year","Water Surface - 500-year","Top of Levee - Left (South)","Top of Levee - Right (North)"],
                "range": ["#1F8A3B","#E8262B","#2D3E97","#B04AA6","#2BAA4E","#EE8A3F"]
              },
              "legend": {
                "orient": "none", "legendX": 44, "legendY": 15, "title": null,
                "symbolType": "stroke", "symbolSize": 3969, "symbolOffset": 25,
                "clipHeight": 22,
                "labelFontSize": 21.5, "labelFont": "Liberation Sans", "labelColor": "#000000",
                "labelOffset": 3, "labelLimit": 0, "rowPadding": 15, "padding": 8,
                "fillColor": "white", "strokeColor": "#7a7a7a",
                "encode": {
                  "symbols": {"update": {
                    "strokeWidth": {"signal": "(datum.value === 'Top of Levee - Right (North)' ? 1.2 : (datum.value === 'Top of Levee - Left (South)' ? 2 : 3.5))"},
                    "strokeDash": {"signal": "(datum.value === 'Water Surface - 50-year' ? [26,10,3,10] : (datum.value === 'Water Surface - 100-year' ? [26,8] : (datum.value === 'Water Surface - 500-year' ? [26,10,3,12,3,12] : [1,0])))"}
                  }},
                  "entries": {"update": {"width": {"value": 390}}},
                  "legend": {"update": {"strokeWidth": {"value": 1.5}}}
                }
              }
            },
            "strokeDash": {
              "field": "series", "type": "nominal",
              "scale": {
                "domain": ["Water Surface - 50-year","Water Surface - 100-year","Water Surface - 200-year","Water Surface - 500-year","Top of Levee - Left (South)","Top of Levee - Right (North)"],
                "range": [[26,10,3,10],[26,8],[1,0],[26,10,3,12,3,12],[1,0],[1,0]]
              },
              "legend": null
            }
          },
          "layer": [
            {
              "transform": [{"filter": "datum.series === 'Top of Levee - Right (North)'"}],
              "mark": {"type": "line", "strokeWidth": 1.1},
              "encoding": {"detail": {"field": "seg", "type": "nominal"}}
            },
            {
              "transform": [{"filter": "indexof(datum.series, 'Water') === 0"}],
              "mark": {"type": "line", "strokeWidth": 3.5, "strokeCap": "butt"}
            },
            {
              "transform": [{"filter": "datum.series === 'Top of Levee - Left (South)'"}],
              "mark": {"type": "line", "strokeWidth": 2}
            }
          ]
        },
        {
          "data": {"name": "lines"},
          "transform": [{"filter": "datum.series === 'Top of Levee - Left (South)'"}],
          "mark": {"type": "point", "filled": true, "color": "#2BAA4E", "size": 32, "opacity": 1}
        }
      ]
    },
    {
      "data": {"name": "places"},
      "mark": {"type": "point", "shape": "triangle-up", "filled": true, "size": 120, "opacity": 1, "yOffset": -5},
      "encoding": {
        "y": {
          "datum": 5, "type": "quantitative",
          "scale": {"domain": [5, 30], "nice": false, "zero": false},
          "axis": {
            "title": "Elevation (ft. NGVD29)",
            "values": [5,6,7,8,9,10,11,12,13,14,15,16,17,18,19,20,21,22,23,24,25,26,27,28,29,30],
            "labelExpr": "datum.value % 5 === 0 ? '' + datum.value : ''",
            "labelOverlap": false,
            "labelFontSize": 22,
            "labelColor": "#000000",
            "labelPadding": 11,
            "tickSize": 9,
            "tickColor": "#444444",
            "tickWidth": 1.2,
            "grid": true,
            "gridColor": "#888888",
            "gridWidth": 1,
            "gridOpacity": {"condition": {"test": "datum.value % 5 === 0", "value": 1}, "value": 0},
            "domainColor": "#444444",
            "domainWidth": 1.6,
            "titleFontSize": 23,
            "titleFontWeight": "bold",
            "titleColor": "#000000",
            "titlePadding": 11,
            "encode": {"ticks": {"update": {"x2": {"signal": "datum.value % 5 === 0 ? -9 : -5"}}}}
          }
        },
        "fill": {"condition": {"test": "datum.kind === 'index'", "value": "#E8262B"}, "value": "#000000"}
      }
    },
    {
      "data": {"name": "places"},
      "mark": {"type": "text", "angle": 270, "align": "left", "baseline": "middle", "dx": 23, "fontSize": 18, "font": "Liberation Sans"},
      "encoding": {
        "y": {
          "datum": 5, "type": "quantitative",
          "scale": {"domain": [5, 30], "nice": false, "zero": false},
          "axis": {
            "title": "Elevation (ft. NGVD29)",
            "values": [5,6,7,8,9,10,11,12,13,14,15,16,17,18,19,20,21,22,23,24,25,26,27,28,29,30],
            "labelExpr": "datum.value % 5 === 0 ? '' + datum.value : ''",
            "labelOverlap": false,
            "labelFontSize": 22,
            "labelColor": "#000000",
            "labelPadding": 11,
            "tickSize": 9,
            "tickColor": "#444444",
            "tickWidth": 1.2,
            "grid": true,
            "gridColor": "#888888",
            "gridWidth": 1,
            "gridOpacity": {"condition": {"test": "datum.value % 5 === 0", "value": 1}, "value": 0},
            "domainColor": "#444444",
            "domainWidth": 1.6,
            "titleFontSize": 23,
            "titleFontWeight": "bold",
            "titleColor": "#000000",
            "titlePadding": 11,
            "encode": {"ticks": {"update": {"x2": {"signal": "datum.value % 5 === 0 ? -9 : -5"}}}}
          }
        },
        "text": {"field": "name"},
        "color": {"condition": {"test": "datum.kind === 'index'", "value": "#E8262B"}, "value": "#000000"}
      }
    }
  ]
}
